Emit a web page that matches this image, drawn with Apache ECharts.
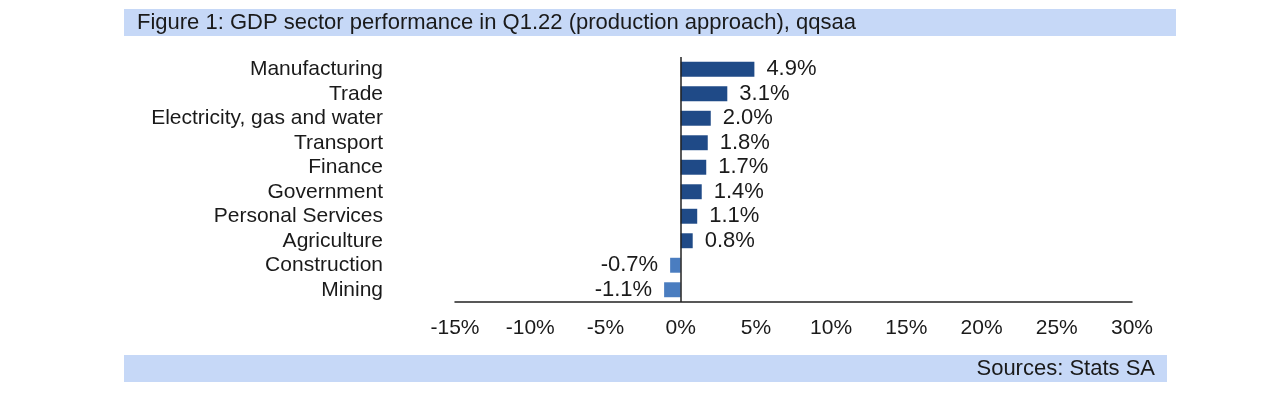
<!DOCTYPE html>
<html>
<head>
<meta charset="utf-8">
<script src="https://cdn.jsdelivr.net/npm/echarts@6/dist/echarts.min.js"></script>
<style>
html,body{margin:0;padding:0;background:#fff;}
#chart{width:1288px;height:393px;}
</style>
</head>
<body>
<div id="chart"></div>
<script>
const categories = ["Manufacturing","Trade","Electricity, gas and water","Transport","Finance","Government","Personal Services","Agriculture","Construction","Mining"];
const values = [4.9, 3.1, 2.0, 1.8, 1.7, 1.4, 1.1, 0.8, -0.7, -1.1];
const xTicks = [-15, -10, -5, 0, 5, 10, 15, 20, 25, 30];
const titleText = "Figure 1: GDP sector performance in Q1.22 (production approach), qqsaa";
const sourceText = "Sources: Stats SA";

const FONT = '"Liberation Sans", Arial, sans-serif';
const POS = '#1f4a87';
const NEG = '#4a7dc0';

const chart = echarts.init(document.getElementById('chart'), null, {renderer:'canvas'});
chart.setOption({
  animation:false,
  backgroundColor:'#fff',
  textStyle:{fontFamily:FONT},
  graphic:[
    {type:'rect', shape:{x:124,y:9,width:1052,height:27}, style:{fill:'#c6d8f7'}},
    {type:'text', x:137, y:23, style:{text:titleText, font:'22px '+FONT, fill:'#1a1a1a', textVerticalAlign:'middle'}},
    {type:'rect', shape:{x:124,y:355,width:1043,height:27}, style:{fill:'#c6d8f7'}},
    {type:'text', x:1155, y:369, style:{text:sourceText, font:'22px '+FONT, fill:'#1a1a1a', textAlign:'right', textVerticalAlign:'middle'}}
  ],
  grid:{left:455, right:156, top:57, bottom:91, containLabel:false},
  xAxis:{
    type:'value', min:xTicks[0], max:xTicks[xTicks.length-1], interval:5,
    axisLine:{show:true, onZero:false, lineStyle:{color:'#222', width:1.5}},
    axisTick:{show:false},
    splitLine:{show:false},
    axisLabel:{formatter:'{value}%', fontSize:21, color:'#1a1a1a', margin:16, fontFamily:FONT}
  },
  yAxis:{
    type:'category', data:categories, inverse:true,
    axisLine:{show:false}, axisTick:{show:false},
    axisLabel:{interval:0, fontSize:21, color:'#1a1a1a', margin:72, fontFamily:FONT}
  },
  series:[{
    type:'bar',
    barCategoryGap:'39%',
    data: values.map(v => ({
      value:v,
      itemStyle:{color: v<0 ? NEG : POS},
      label:{position: v<0 ? 'left' : 'right'}
    })),
    label:{show:true, distance:12, fontSize:22, color:'#1a1a1a', fontFamily:FONT,
      formatter: p => p.value.toFixed(1) + '%'},
    markLine:{
      silent:true, symbol:'none', label:{show:false},
      lineStyle:{color:'#222', width:1.5, type:'solid'},
      data:[{xAxis:0}]
    }
  }]
});
</script>
</body>
</html>
